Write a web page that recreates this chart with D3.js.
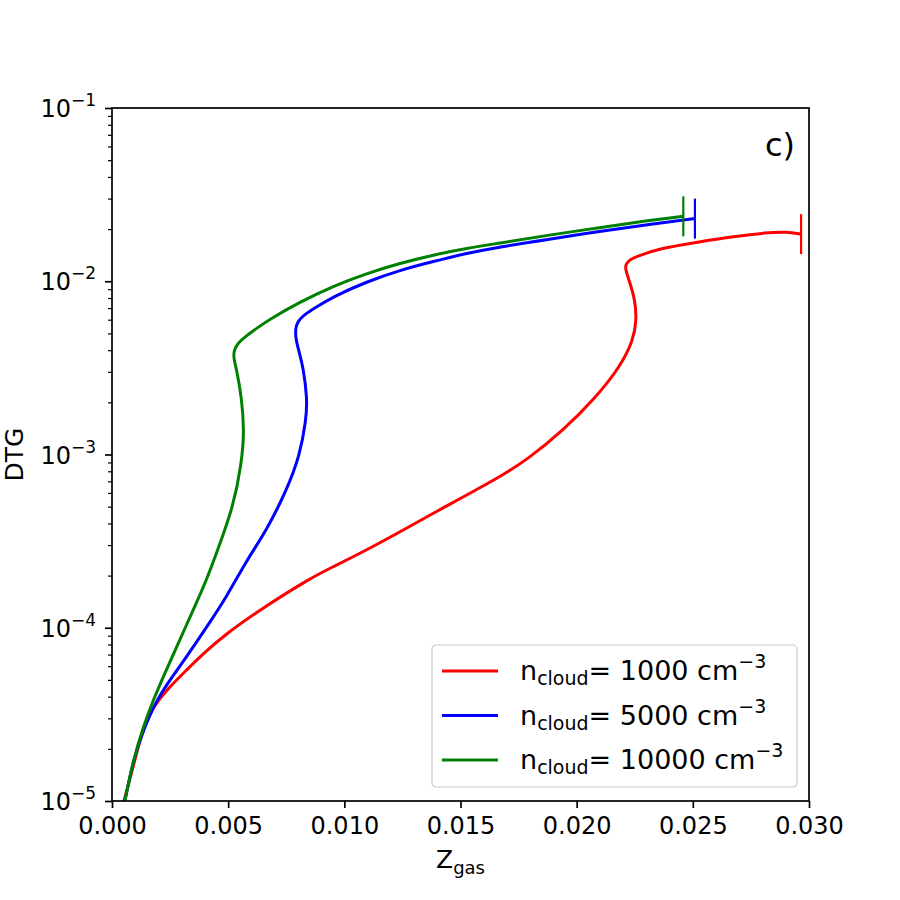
<!DOCTYPE html>
<html>
<head>
<meta charset="utf-8">
<script src="https://cdn.jsdelivr.net/npm/d3@7"></script>
<style>
  body { margin: 0; background: #fff; }
  svg { font-family: "DejaVu Sans", sans-serif; }
</style>
</head>
<body>
<svg width="900" height="900"></svg>
<script>
// values
const densities = ["1000", "5000", "10000"];
const colors = ["#ff0000", "#0000ff", "#008000"];

const redZ = [0.000516, 0.00099, 0.001347, 0.001778, 0.002354, 0.003069, 0.00393, 0.004937, 0.00637, 0.00852,
  0.009525, 0.01096, 0.0124, 0.01383, 0.01527, 0.0167, 0.01785, 0.01943, 0.02086, 0.02187,
  0.02244, 0.02258, 0.02251, 0.0223, 0.02208, 0.02212, 0.02232, 0.02258, 0.02359, 0.02531,
  0.02674, 0.02818, 0.02904, 0.02966];
const redDTG = [1.0e-5, 1.73e-5, 2.69e-5, 3.5e-5, 4.38e-5, 5.46e-5, 7.11e-5, 9.29e-5, 1.27e-4, 1.93e-4,
  2.25e-4, 2.81e-4, 3.58e-4, 4.58e-4, 5.84e-4, 7.45e-4, 9.29e-4, 1.38e-3, 2.16e-3, 3.21e-3,
  4.58e-3, 5.97e-3, 7.8e-3, 9.73e-3, 1.19e-2, 1.26e-2, 1.34e-2, 1.39e-2, 1.55e-2, 1.69e-2,
  1.81e-2, 1.91e-2, 1.93e-2, 1.87e-2];

const blueZ = [0.00056, 0.000917, 0.001347, 0.001924, 0.002496, 0.003215, 0.004076, 0.004937, 0.0058, 0.00666,
  0.00752, 0.00809, 0.00835, 0.00841, 0.00823, 0.008027, 0.007898, 0.007898, 0.008006, 0.008264,
  0.008694, 0.009525, 0.01096, 0.0124, 0.01383, 0.01527, 0.0167, 0.01871, 0.021, 0.02316,
  0.02509];
const blueDTG = [1.01e-5, 1.73e-5, 2.57e-5, 3.83e-5, 4.99e-5, 6.81e-5, 1.01e-4, 1.51e-4, 2.46e-4, 3.66e-4,
  6.24e-4, 9.93e-4, 1.58e-3, 2.07e-3, 3.21e-3, 4.01e-3, 4.76e-3, 5.37e-3, 5.9e-3, 6.38e-3,
  6.97e-3, 8.15e-3, 9.94e-3, 1.16e-2, 1.3e-2, 1.45e-2, 1.58e-2, 1.74e-2, 1.94e-2, 2.13e-2,
  2.3e-2];

const greenZ = [0.00056, 0.000917, 0.001347, 0.001778, 0.002208, 0.002785, 0.0035, 0.004076, 0.004575, 0.00522,
  0.00558, 0.005694, 0.00558, 0.005367, 0.00523, 0.00525, 0.005423, 0.005767, 0.006241, 0.0068,
  0.00809, 0.009525, 0.01096, 0.0124, 0.01383, 0.01527, 0.0167, 0.01871, 0.021, 0.02316,
  0.02459];
const greenDTG = [1.01e-5, 1.73e-5, 2.69e-5, 3.83e-5, 5.21e-5, 7.78e-5, 1.27e-4, 1.89e-4, 2.88e-4, 5.0e-4,
  8.89e-4, 1.38e-3, 2.12e-3, 3.08e-3, 3.61e-3, 4.01e-3, 4.41e-3, 4.83e-3, 5.37e-3, 6.05e-3,
  7.59e-3, 9.39e-3, 1.11e-2, 1.27e-2, 1.42e-2, 1.55e-2, 1.66e-2, 1.84e-2, 2.04e-2, 2.25e-2,
  2.37e-2];

const xTicks = [0, 0.005, 0.01, 0.015, 0.02, 0.025, 0.03];
const yExponents = [-1, -2, -3, -4, -5];

const margin = { top: 108, left: 112 },
      width = 697,
      height = 693;

const svg = d3.select("svg");
const g = svg.append("g").attr("transform", `translate(${margin.left},${margin.top})`);

const x = d3.scaleLinear().domain([0, 0.03]).range([0, width]);
const y = d3.scaleLog().domain([1e-5, 1e-1]).range([height, 0]);

const series = [
  { z: redZ, dtg: redDTG },
  { z: blueZ, dtg: blueDTG },
  { z: greenZ, dtg: greenDTG }
];

// B-spline smooths out the reading jitter of the traced points
const line = d3.line()
  .x(d => x(d[0]))
  .y(d => y(d[1]))
  .curve(d3.curveBasis);

// clip to plot area
g.append("clipPath").attr("id", "clip")
  .append("rect").attr("width", width).attr("height", height);

const plot = g.append("g").attr("clip-path", "url(#clip)");

series.forEach((s, i) => {
  const pts = s.z.map((v, j) => [v, s.dtg[j]]);
  plot.append("path")
    .datum(pts)
    .attr("d", line)
    .attr("fill", "none")
    .attr("stroke", colors[i])
    .attr("stroke-width", 3)
    .attr("stroke-linejoin", "round");
  // end marker "|"
  const last = pts[pts.length - 1];
  plot.append("line")
    .attr("x1", x(last[0])).attr("x2", x(last[0]))
    .attr("y1", y(last[1]) - 20).attr("y2", y(last[1]) + 20)
    .attr("stroke", colors[i])
    .attr("stroke-width", 2.2);
});

// x axis
const xAxis = g.append("g")
  .attr("transform", `translate(0,${height})`)
  .call(d3.axisBottom(x).tickValues(xTicks).tickSize(7).tickPadding(9).tickFormat(d3.format(".3f")));
xAxis.select(".domain").remove();
xAxis.selectAll("line").attr("stroke", "#000").attr("stroke-width", 1.7);
xAxis.selectAll("text").attr("font-size", 24).attr("fill", "#000").attr("font-family", "DejaVu Sans");

// y axis: major
const majors = yExponents.map(e => Math.pow(10, e));
const yAxis = g.append("g")
  .call(d3.axisLeft(y).tickValues(majors).tickSize(7).tickFormat(""));
yAxis.select(".domain").remove();
yAxis.selectAll("line").attr("stroke", "#000").attr("stroke-width", 1.7);

// y axis: minor
const minors = [];
yExponents.slice(1).forEach(e => {
  for (let k = 2; k <= 9; k++) minors.push(k * Math.pow(10, e));
});
const yMinor = g.append("g")
  .call(d3.axisLeft(y).tickValues(minors).tickSize(4).tickFormat(""));
yMinor.select(".domain").remove();
yMinor.selectAll("line").attr("stroke", "#000").attr("stroke-width", 1.2);

// y tick labels with superscripts
yExponents.forEach(e => {
  const t = g.append("text")
    .attr("x", -16)
    .attr("y", y(Math.pow(10, e)) + 9)
    .attr("text-anchor", "end")
    .attr("font-size", 24)
    .attr("fill", "#000");
  t.append("tspan").text("10");
  t.append("tspan").attr("dy", -11).attr("font-size", 17).text("\u2212" + Math.abs(e));
});

// frame
g.append("rect")
  .attr("width", width).attr("height", height)
  .attr("fill", "none").attr("stroke", "#000").attr("stroke-width", 1.7);

// axis labels
const xl = svg.append("text")
  .attr("x", margin.left + width / 2)
  .attr("y", 868)
  .attr("text-anchor", "middle")
  .attr("font-size", 25)
  .attr("fill", "#000");
xl.append("tspan").text("Z");
xl.append("tspan").attr("dy", 6).attr("font-size", 18).text("gas");

svg.append("text")
  .attr("transform", `translate(23,${margin.top + height / 2}) rotate(-90)`)
  .attr("text-anchor", "middle")
  .attr("font-size", 25)
  .attr("fill", "#000")
  .text("DTG");

// panel label
g.append("text")
  .attr("x", width - 14)
  .attr("y", 48)
  .attr("text-anchor", "end")
  .attr("font-size", 32)
  .attr("fill", "#000")
  .text("c)");

// legend
const legend = g.append("g").attr("transform", `translate(${320},${537})`);
legend.append("rect")
  .attr("width", 365).attr("height", 142)
  .attr("rx", 4).attr("ry", 4)
  .attr("fill", "#fff").attr("fill-opacity", 0.8)
  .attr("stroke", "#cccccc").attr("stroke-width", 1.2);

densities.forEach((d, i) => {
  const yy = 26 + i * 44.5;
  legend.append("line")
    .attr("x1", 10).attr("x2", 66)
    .attr("y1", yy).attr("y2", yy)
    .attr("stroke", colors[i]).attr("stroke-width", 3);
  const t = legend.append("text")
    .attr("x", 88).attr("y", yy + 9)
    .attr("font-size", 27)
    .attr("fill", "#000");
  t.append("tspan").text("n");
  t.append("tspan").attr("dy", 5).attr("font-size", 19).text("cloud");
  t.append("tspan").attr("dy", -5).text("= " + d + " cm");
  t.append("tspan").attr("dy", -12).attr("font-size", 19).text("\u22123");
});
</script>
</body>
</html>
